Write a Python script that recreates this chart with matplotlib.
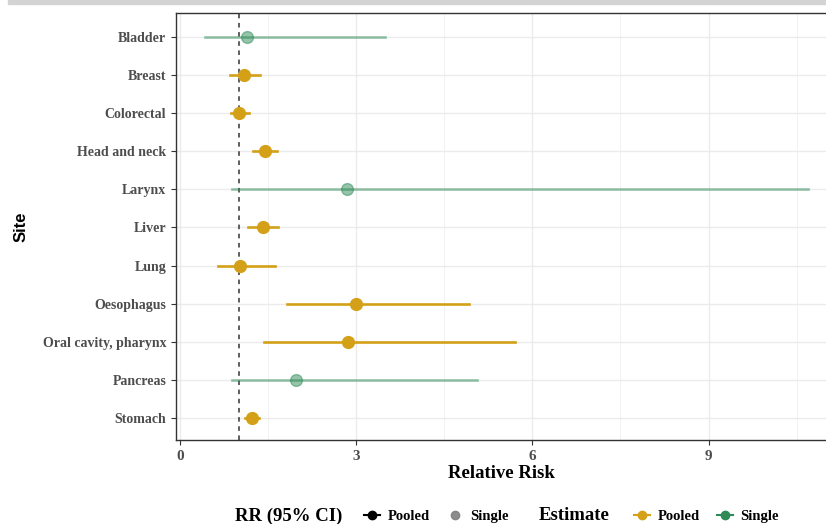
import matplotlib
matplotlib.use("Agg")
import matplotlib.pyplot as plt
from matplotlib.lines import Line2D
from matplotlib.patches import Rectangle

# data
sites = ['Bladder', 'Breast', 'Colorectal', 'Head and neck', 'Larynx', 'Liver',
         'Lung', 'Oesophagus', 'Oral cavity, pharynx', 'Pancreas', 'Stomach']
rr = [1.14, 1.09, 1.00, 1.45, 2.84, 1.41, 1.03, 3.00, 2.86, 1.97, 1.23]
lo = [0.43, 0.85, 0.87, 1.25, 0.89, 1.16, 0.65, 1.82, 1.43, 0.88, 1.11]
hi = [3.49, 1.37, 1.17, 1.65, 10.70, 1.67, 1.61, 4.92, 5.71, 5.05, 1.34]
estimate = ['Single', 'Pooled', 'Pooled', 'Pooled', 'Single', 'Pooled',
            'Pooled', 'Pooled', 'Pooled', 'Single', 'Pooled']

gold = '#D4A017'
green = '#2E8B57'
serif = 'Liberation Serif'

fig = plt.figure(figsize=(8.26, 5.24), dpi=100)
fig.patches.append(Rectangle((8 / 826, 1 - 4 / 524), 1, 4 / 524, transform=fig.transFigure,
                             color='#D3D3D3', zorder=0))
ax = fig.add_axes([176 / 826, 84 / 524, 1 - 176 / 826, (440 - 13) / 524])

ypos = list(range(len(sites)))
for y, r, l, h, e in zip(ypos, rr, lo, hi, estimate):
    if e == 'Pooled':
        ax.plot([l, h], [y, y], color=gold, lw=1.9, zorder=3)
        ax.plot(r, y, 'o', color=gold, markersize=8.5, zorder=4)
    else:
        ax.plot([l, h], [y, y], color=green, lw=1.9, alpha=0.5, zorder=3)
        ax.plot(r, y, 'o', color=green, markersize=8.5, alpha=0.5, zorder=4)

ax.axvline(1, color='#333333', ls=(0, (3, 3)), lw=1.1, zorder=2)

ax.set_xlim(-0.068, 11.0)
ax.set_ylim(10.58, -0.63)
ax.set_xticks([0, 3, 6, 9])
ax.set_xticks([1.5, 4.5, 7.5, 10.5], minor=True)
ax.set_yticks(ypos)
ax.set_yticklabels(sites)
ax.grid(True, which='major', color='#EBEBEB', lw=1.0, zorder=0)
ax.grid(True, which='minor', axis='x', color='#F2F2F2', lw=0.7, zorder=0)
ax.set_axisbelow(True)
ax.tick_params(which='minor', length=0)
ax.tick_params(which='major', length=3.5, color='#333333', width=0.8)

for lab in ax.get_yticklabels():
    lab.set_fontfamily(serif)
    lab.set_fontweight('bold')
    lab.set_fontsize(10)
    lab.set_color('#4D4D4D')
for lab in ax.get_xticklabels():
    lab.set_fontfamily(serif)
    lab.set_fontweight('bold')
    lab.set_fontsize(11)
    lab.set_color('#4D4D4D')

for s in ['left', 'top', 'bottom']:
    ax.spines[s].set_color('#333333')
    ax.spines[s].set_linewidth(1.0)
ax.spines['right'].set_visible(False)

ax.set_xlabel('Relative Risk', fontfamily=serif, fontweight='bold', fontsize=13.5, labelpad=2)
ax.set_ylabel('Site', fontfamily='Liberation Sans', fontweight='bold', fontsize=12)
ax.yaxis.set_label_coords((29 - 176) / 650, 0.5)

# legends along the bottom
fig.text(235 / 826, 1 - 516 / 524, 'RR (95% CI)', fontfamily=serif, fontweight='bold',
         fontsize=13.5, va='center', ha='left')
fig.text(539 / 826, 1 - 516 / 524, 'Estimate', fontfamily=serif, fontweight='bold',
         fontsize=13.5, va='center', ha='left')

rr_handles = [Line2D([], [], color='black', marker='o', markersize=6, lw=1.5),
              Line2D([], [], color='gray', marker='o', markersize=6, lw=0, alpha=0.9)]
est_handles = [Line2D([], [], color=gold, marker='o', markersize=6, lw=1.5),
               Line2D([], [], color=green, marker='o', markersize=6, lw=1.5)]
legprops = dict(ncol=2, frameon=False, loc='center left', handlelength=1.1,
                handletextpad=0.5, columnspacing=1.2, borderpad=0,
                prop={'family': serif, 'weight': 'bold', 'size': 10.5})
fig.legend(rr_handles, ['Pooled', 'Single'], bbox_to_anchor=(357 / 826, 1 - 516 / 524), **legprops)
fig.legend(est_handles, ['Pooled', 'Single'], bbox_to_anchor=(627 / 826, 1 - 516 / 524), **legprops)

fig.savefig('out.png', dpi=100)
